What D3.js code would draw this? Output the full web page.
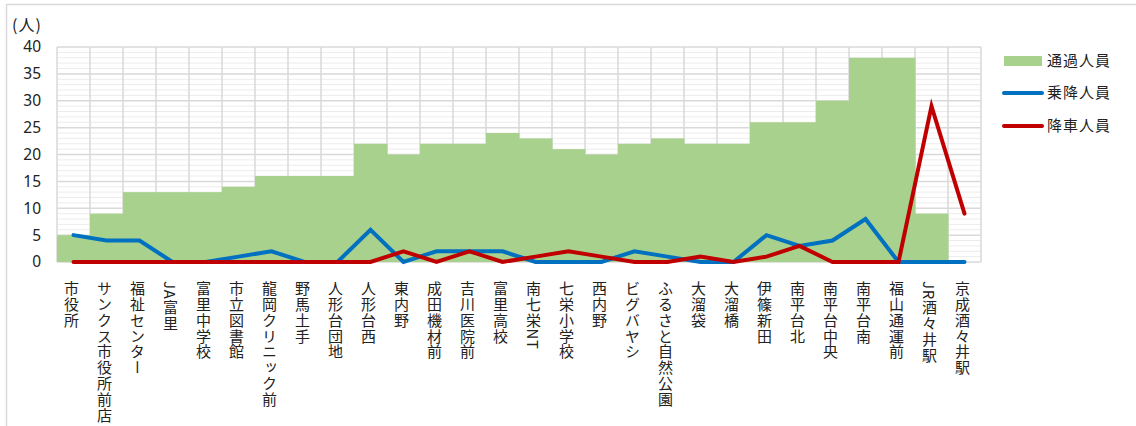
<!DOCTYPE html>
<html>
<head>
<meta charset="utf-8">
<script src="https://cdn.jsdelivr.net/npm/d3@7"></script>
<style>
  html, body { margin: 0; padding: 0; background: #fff; }
  svg { display: block; font-family: "Noto Sans CJK JP", "Noto Sans", sans-serif; }
</style>
</head>
<body>
<svg id="chart" width="1136" height="426"></svg>
<script>
// Bus stops along the route
const stops = [
  "市役所", "サンクス市役所前店", "福祉センター", "JA富里", "富里中学校",
  "市立図書館", "龍岡クリニック前", "野馬土手", "人形台団地", "人形台西",
  "東内野", "成田機材前", "吉川医院前", "富里高校", "南七栄NT",
  "七栄小学校", "西内野", "ビグバヤシ", "ふるさと自然公園", "大溜袋",
  "大溜橋", "伊篠新田", "南平台北", "南平台中央", "南平台南",
  "福山通運前", "JR酒々井駅", "京成酒々井駅"
];
// 通過人員
const passing = [5, 9, 13, 13, 13, 14, 16, 16, 16, 22, 20, 22, 22, 24, 23, 21, 20, 22, 23, 22, 22, 26, 26, 30, 38, 38, 9, 0];
// 乗降人員
const boarding = [5, 4, 4, 0, 0, 1, 2, 0, 0, 6, 0, 2, 2, 2, 0, 0, 0, 2, 1, 0, 0, 5, 3, 4, 8, 0, 0, 0];
// 降車人員
const alighting = [0, 0, 0, 0, 0, 0, 0, 0, 0, 0, 2, 0, 2, 0, 1, 2, 1, 0, 0, 1, 0, 1, 3, 0, 0, 0, 29, 9];
const yTicks = [0, 5, 10, 15, 20, 25, 30, 35, 40];
const seriesNames = ["通過人員", "乗降人員", "降車人員"];

const svg = d3.select("#chart");
const plot = { left: 57, right: 981, top: 47, bottom: 262 };

// outer chart frame
svg.append("rect")
  .attr("x", 6.5).attr("y", 4.5).attr("width", 1200).attr("height", 500)
  .attr("fill", "none").attr("stroke", "#d9d9d9").attr("stroke-width", 1.5);

const x = d3.scaleBand().domain(stops).range([plot.left, plot.right]).padding(0);
const y = d3.scaleLinear().domain([0, 40]).range([plot.bottom, plot.top]);

const g = svg.append("g");

// minor gridlines (every 1)
g.append("g").selectAll("line")
  .data(d3.range(1, 40).filter(v => v % 5 !== 0))
  .join("line")
  .attr("x1", plot.left).attr("x2", plot.right)
  .attr("y1", d => y(d)).attr("y2", d => y(d))
  .attr("stroke", "#ececec").attr("stroke-width", 1);

// major gridlines
g.append("g").selectAll("line")
  .data(yTicks)
  .join("line")
  .attr("x1", plot.left).attr("x2", plot.right)
  .attr("y1", d => y(d)).attr("y2", d => y(d))
  .attr("stroke", "#d9d9d9").attr("stroke-width", 1.5);

// vertical category gridlines
g.append("g").selectAll("line")
  .data(stops.concat([null]))
  .join("line")
  .attr("x1", (d, i) => plot.left + i * x.bandwidth())
  .attr("x2", (d, i) => plot.left + i * x.bandwidth())
  .attr("y1", plot.top).attr("y2", plot.bottom)
  .attr("stroke", "#d9d9d9").attr("stroke-width", 1.5);

// passing volume as adjoining columns
g.append("g").selectAll("rect")
  .data(passing)
  .join("rect")
  .attr("x", (d, i) => x(stops[i]))
  .attr("width", x.bandwidth() + 0.5)
  .attr("y", d => y(d))
  .attr("height", d => y(0) - y(d))
  .attr("fill", "#a9d18e");

const cx = (d, i) => x(stops[i]) + x.bandwidth() / 2;
const line = d3.line().x(cx).y(d => y(d));

g.append("path").datum(boarding)
  .attr("d", line).attr("fill", "none")
  .attr("stroke", "#0070c0").attr("stroke-width", 4)
  .attr("stroke-linejoin", "miter").attr("stroke-linecap", "round");

g.append("path").datum(alighting)
  .attr("d", line).attr("fill", "none")
  .attr("stroke", "#c00000").attr("stroke-width", 4)
  .attr("stroke-linejoin", "miter").attr("stroke-linecap", "round");

// y axis labels
const yAxis = d3.axisLeft(y).tickValues(yTicks).tickSize(0).tickPadding(0);
const ya = svg.append("g").attr("transform", `translate(${41},0)`).call(yAxis);
ya.select(".domain").remove();
ya.selectAll("text")
  .attr("font-size", 15.5).attr("fill", "#222")
  .attr("font-family", "'Noto Sans', 'Noto Sans CJK JP', sans-serif");

svg.append("text")
  .attr("x", 12).attr("y", 31)
  .attr("font-size", 16).attr("fill", "#222")
  .attr("letter-spacing", 1)
  .text("(人)");

// vertical station names
svg.append("g").selectAll("text")
  .data(stops)
  .join("text")
  .attr("x", d => x(d) + x.bandwidth() / 2 - 2)
  .attr("y", 281)
  .attr("font-size", 15)
  .attr("letter-spacing", 0.8)
  .attr("fill", "#222")
  .style("writing-mode", "vertical-rl")
  .text(d => d);

// legend
const legend = svg.append("g").attr("transform", "translate(1004,0)");
legend.append("rect").attr("x", 0).attr("y", 56).attr("width", 38).attr("height", 10).attr("fill", "#a9d18e");
legend.append("line").attr("x1", 0).attr("x2", 38).attr("y1", 93).attr("y2", 93)
  .attr("stroke", "#0070c0").attr("stroke-width", 4).attr("stroke-linecap", "round");
legend.append("line").attr("x1", 0).attr("x2", 38).attr("y1", 126).attr("y2", 126)
  .attr("stroke", "#c00000").attr("stroke-width", 4).attr("stroke-linecap", "round");
legend.selectAll("text.lbl")
  .data(seriesNames)
  .join("text")
  .attr("class", "lbl")
  .attr("x", 43)
  .attr("y", (d, i) => [61, 93, 126][i])
  .attr("dy", "0.36em")
  .attr("font-size", 15)
  .attr("letter-spacing", 1)
  .attr("fill", "#222")
  .text(d => d);
</script>
</body>
</html>
